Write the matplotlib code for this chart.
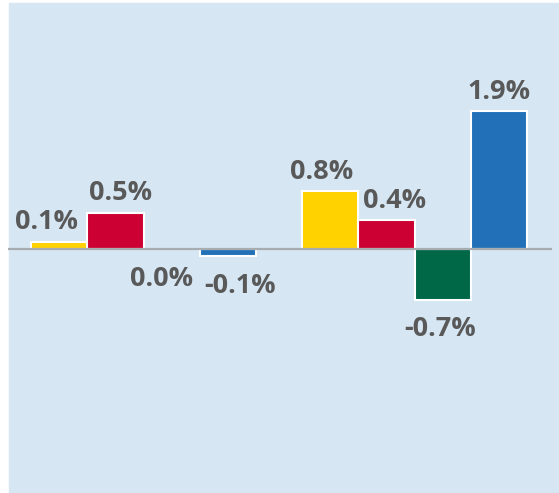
import matplotlib
matplotlib.use("Agg")
import matplotlib.pyplot as plt
import numpy as np

# data
groups = ["Group A", "Group B"]
series_names = ["Yellow", "Red", "Green", "Blue"]
values_a = [0.1, 0.5, 0.0, -0.1]
values_b = [0.8, 0.4, -0.7, 1.9]
colors = ["#FFD200", "#CC0033", "#006747", "#2271B8"]

# label nudges (points) so they dodge each other like the original
label_dx = [[-9, 4, -7, 9], [-6, 6, -2, 0]]

bg = "#D6E7F3"
txt = "#595959"

fig = plt.figure(figsize=(5.59, 4.93), dpi=100, facecolor="white")
fig.add_artist(plt.Rectangle((9 / 559, 0), 549 / 559, 490 / 493,
                             transform=fig.transFigure, color=bg, zorder=-10))

ax = fig.add_axes([8 / 559, 0, 544 / 559, 490 / 493])
ax.set_facecolor("none")

x = np.arange(len(groups))
w = 0.2075
data = np.array([values_a, values_b]).T  # rows = series

for i, (vals, c) in enumerate(zip(data, colors)):
    pos = x + (i - 1.5) * w
    ax.bar(pos, vals, width=w, color=c, edgecolor="white", linewidth=1.5, zorder=2)
    for j, (px, v) in enumerate(zip(pos, vals)):
        neg = v < 0 or (v == 0 and i == 2)
        ax.annotate(f"{v:.1f}%", (px, v), xytext=(label_dx[j][i], -12 if neg else 4.5),
                    textcoords="offset points", ha="center",
                    va="top" if neg else "bottom",
                    fontsize=19.5, fontweight="bold", color=txt, family="Open Sans")

ax.axhline(0, color="#A6ACAF", linewidth=1.6, zorder=3)

ax.set_xlim(-0.5, 1.507)
ax.set_ylim(-244 / 72.6, 246 / 72.6)
ax.axis("off")

plt.savefig("out.png", dpi=100, facecolor="white")
